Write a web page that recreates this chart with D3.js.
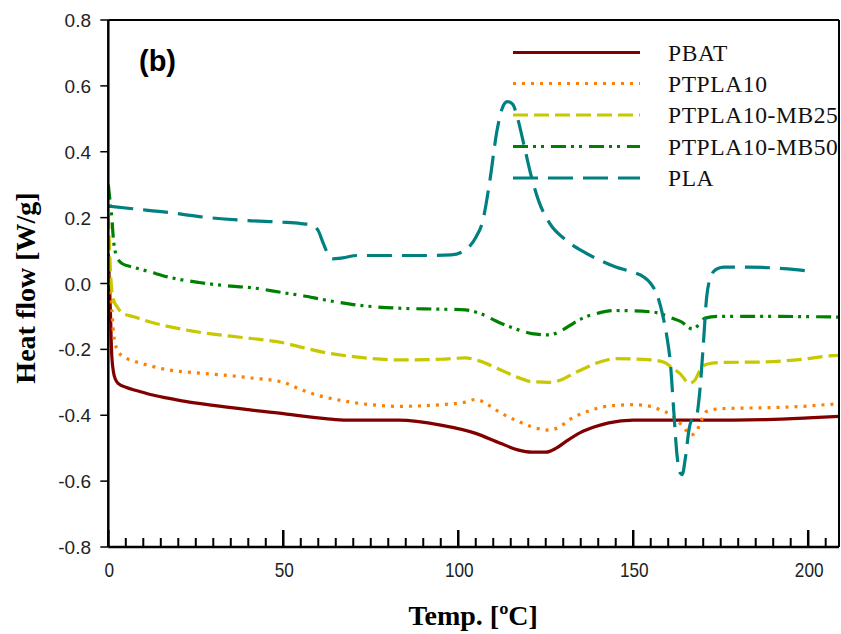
<!DOCTYPE html>
<html>
<head>
<meta charset="utf-8">
<script src="https://cdn.jsdelivr.net/npm/d3@7/dist/d3.min.js"></script>
<style>
  html, body { margin: 0; padding: 0; background: #fff; }
  svg { display: block; }
</style>
</head>
<body>
<svg id="chart" width="841" height="634"></svg>
<script>
// ---------------- DATA ----------------
const seriesNames = ["PBAT", "PTPLA10", "PTPLA10-MB25", "PTPLA10-MB50", "PLA"];

const xTicks = [0, 50, 100, 150, 200];
const yTicks = [0.8, 0.6, 0.4, 0.2, 0.0, -0.2, -0.4, -0.6, -0.8];

// [Temp (°C), Heat flow (W/g)]
const pbat = [[0,0.09],[0.5,-0.05],[1,-0.22],[1.5,-0.27],[2,-0.29],[3,-0.305],[5,-0.315],[8,-0.325],[12,-0.337],[17,-0.348],[22,-0.358],[30,-0.37],[40,-0.383],[50,-0.395],[55,-0.402],[62,-0.41],[68,-0.415],[83,-0.415],[95,-0.43],[105,-0.455],[112,-0.485],[117,-0.505],[121,-0.512],[125,-0.512],[128,-0.5],[131,-0.478],[135,-0.452],[139,-0.435],[143,-0.423],[150,-0.415],[160,-0.415],[170,-0.415],[188,-0.413],[200,-0.408],[209,-0.403]];

const ptpla10 = [[0,0.03],[0.5,-0.02],[1,-0.08],[1.5,-0.15],[2.5,-0.2],[4,-0.22],[7,-0.234],[12,-0.25],[17,-0.262],[26,-0.272],[35,-0.28],[41,-0.287],[50,-0.3],[55,-0.322],[60,-0.34],[65,-0.352],[75,-0.368],[83,-0.373],[95,-0.368],[102,-0.36],[105,-0.352],[108,-0.365],[112,-0.392],[117,-0.418],[121,-0.435],[126,-0.445],[129,-0.435],[132,-0.412],[136,-0.392],[140,-0.378],[145,-0.37],[150,-0.368],[155,-0.373],[158,-0.385],[161,-0.4],[163,-0.42],[165,-0.445],[166.5,-0.46],[168,-0.45],[169.5,-0.415],[171,-0.388],[175,-0.38],[188,-0.377],[200,-0.372],[206,-0.367],[209,-0.365]];

const ptpla10mb25 = [[0,0.21],[0.3,0.12],[0.7,0.02],[1,-0.02],[1.5,-0.05],[2.5,-0.07],[4,-0.09],[7,-0.1],[12,-0.117],[17,-0.13],[26,-0.148],[35,-0.16],[41,-0.167],[50,-0.18],[55,-0.193],[62,-0.21],[70,-0.222],[83,-0.232],[95,-0.23],[102,-0.226],[106,-0.235],[112,-0.262],[117,-0.285],[121,-0.298],[126,-0.3],[130,-0.29],[133,-0.273],[136,-0.258],[140,-0.24],[145,-0.228],[155,-0.232],[159,-0.24],[161,-0.255],[163.5,-0.275],[166,-0.303],[167.5,-0.295],[169,-0.265],[171,-0.245],[175,-0.24],[188,-0.238],[200,-0.228],[206,-0.22],[209,-0.218]];

const ptpla10mb50 = [[0,0.3],[0.5,0.25],[1,0.2],[1.5,0.13],[2.5,0.08],[4,0.06],[7,0.05],[12,0.035],[17,0.02],[26,0.003],[35,-0.008],[41,-0.013],[50,-0.028],[55,-0.036],[62,-0.05],[70,-0.064],[83,-0.075],[95,-0.078],[102,-0.08],[106,-0.09],[112,-0.12],[117,-0.14],[121,-0.152],[126,-0.156],[130,-0.14],[133,-0.12],[136,-0.103],[140,-0.09],[145,-0.082],[155,-0.086],[158,-0.092],[161,-0.105],[163.5,-0.115],[167,-0.138],[169,-0.122],[170.5,-0.105],[174,-0.1],[190,-0.1],[209,-0.102]];

const pla = [[0,0.235],[7,0.227],[17,0.216],[26,0.203],[40,0.191],[50,0.186],[55,0.182],[58,0.178],[60,0.16],[61.5,0.12],[63,0.085],[64,0.075],[67,0.078],[71,0.085],[80,0.085],[90,0.085],[98,0.087],[101,0.095],[103,0.11],[105,0.14],[107,0.19],[109,0.31],[111,0.46],[112.5,0.53],[114,0.552],[115.5,0.545],[117,0.5],[119,0.41],[121,0.32],[123,0.25],[126,0.185],[131,0.13],[136,0.095],[140.6,0.07],[145,0.05],[150,0.034],[153,0.02],[155,0.0],[157,-0.04],[158.5,-0.1],[159.6,-0.16],[160.6,-0.24],[161.6,-0.39],[162.5,-0.52],[163.4,-0.575],[164,-0.58],[164.9,-0.53],[166,-0.44],[167,-0.41],[168,-0.405],[169,-0.33],[170,-0.19],[171,-0.04],[172.5,0.03],[174,0.045],[176,0.05],[183,0.05],[193,0.045],[200,0.038]];

const seriesData = [pbat, ptpla10, ptpla10mb25, ptpla10mb50, pla];

// ---------------- STYLE ----------------
const colors = ["#800000", "#ff8000", "#c8c800", "#008000", "#008080"];
const dashes = ["none", "3,6", "15,6", "15,5,3,5,3,7", "25,10"];

(function () {
const svg = d3.select("#chart");
const mLeft = 108.3, mRight = 839, mTop = 20, mBottom = 547;

const x = d3.scaleLinear().domain([0, 208.8]).range([mLeft, mRight]);
const y = d3.scaleLinear().domain([-0.8, 0.8]).range([mBottom, mTop]);

svg.append("defs").append("clipPath").attr("id", "clip")
  .append("rect").attr("x", mLeft).attr("y", mTop)
  .attr("width", mRight - mLeft).attr("height", mBottom - mTop);

// Lines
const line = d3.line().x(d => x(d[0])).y(d => y(d[1])).curve(d3.curveMonotoneX);
const g = svg.append("g").attr("clip-path", "url(#clip)");
seriesData.forEach((data, i) => {
  g.append("path")
    .attr("d", line(data))
    .attr("fill", "none")
    .attr("stroke", colors[i])
    .attr("stroke-width", 3.2)
    .attr("stroke-dasharray", dashes[i])
    .attr("stroke-linejoin", "round");
});

// Frame top/right
svg.append("line").attr("x1", mLeft).attr("x2", mRight).attr("y1", mTop).attr("y2", mTop)
  .attr("stroke", "#000").attr("stroke-width", 2);
svg.append("line").attr("x1", mRight).attr("x2", mRight).attr("y1", mTop).attr("y2", mBottom)
  .attr("stroke", "#000").attr("stroke-width", 2);

// X axis (ticks inward)
const xMinor = d3.range(5, 209, 5).filter(v => v % 50 !== 0);
const xAxis = svg.append("g").attr("transform", `translate(0,${mBottom})`);
xAxis.append("line").attr("x1", mLeft).attr("x2", mRight).attr("stroke", "#000").attr("stroke-width", 2.5);
xAxis.selectAll(".minor").data(xMinor).enter().append("line")
  .attr("x1", d => x(d)).attr("x2", d => x(d)).attr("y1", 0).attr("y2", -9)
  .attr("stroke", "#000").attr("stroke-width", 2);
xAxis.selectAll(".major").data(xTicks).enter().append("line")
  .attr("x1", d => x(d)).attr("x2", d => x(d)).attr("y1", 0).attr("y2", -17)
  .attr("stroke", "#000").attr("stroke-width", 2.5);
xAxis.selectAll(".lbl").data(xTicks).enter().append("text")
  .attr("transform", d => `translate(${x(d) + 1},30) scale(0.82,1)`)
  .attr("text-anchor", "middle")
  .attr("font-family", "'Liberation Sans', Arial, sans-serif")
  .attr("font-size", 21)
  .attr("fill", "#222")
  .text(d => d);

// Y axis (ticks outward)
const yAxis = svg.append("g");
yAxis.append("line").attr("x1", mLeft).attr("x2", mLeft).attr("y1", mTop).attr("y2", mBottom)
  .attr("stroke", "#000").attr("stroke-width", 2.5);
yAxis.selectAll(".yt").data(yTicks).enter().append("line")
  .attr("x1", mLeft - 8).attr("x2", mLeft).attr("y1", d => y(d)).attr("y2", d => y(d))
  .attr("stroke", "#000").attr("stroke-width", 1.5);
yAxis.selectAll(".yl").data(yTicks).enter().append("text")
  .attr("x", 91).attr("y", d => y(d) + 7)
  .attr("text-anchor", "end")
  .attr("font-family", "'Liberation Sans', Arial, sans-serif")
  .attr("font-size", 19)
  .attr("fill", "#222")
  .text(d => d.toFixed(1));

// Axis titles
svg.append("text")
  .attr("x", (mLeft + mRight) / 2 - 0.5).attr("y", 625)
  .attr("text-anchor", "middle")
  .attr("font-family", "'Liberation Serif', 'Times New Roman', serif")
  .attr("font-weight", "bold").attr("font-size", 28)
  .text("Temp. [ºC]");

svg.append("text")
  .attr("transform", "translate(35,288) rotate(-90)")
  .attr("text-anchor", "middle")
  .attr("font-family", "'Liberation Serif', 'Times New Roman', serif")
  .attr("font-weight", "bold").attr("font-size", 28)
  .text("Heat flow [W/g]");

// Panel label
svg.append("text")
  .attr("x", 139).attr("y", 71)
  .attr("font-family", "'Liberation Sans', Arial, sans-serif")
  .attr("font-weight", "bold").attr("font-size", 29)
  .text("(b)");

// Legend
const legY = [52.5, 83.5, 115, 146.5, 178];
const leg = svg.append("g");
seriesNames.forEach((name, i) => {
  leg.append("line")
    .attr("x1", 513).attr("x2", 640).attr("y1", legY[i]).attr("y2", legY[i])
    .attr("stroke", colors[i]).attr("stroke-width", 3.2)
    .attr("stroke-dasharray", dashes[i]);
  leg.append("text")
    .attr("x", 668).attr("y", legY[i] + 8)
    .attr("font-family", "'Liberation Serif', 'Times New Roman', serif")
    .attr("font-size", 23.5)
    .attr("letter-spacing", 0.6)
    .attr("fill", "#111")
    .text(name);
});
})();
</script>
</body>
</html>
